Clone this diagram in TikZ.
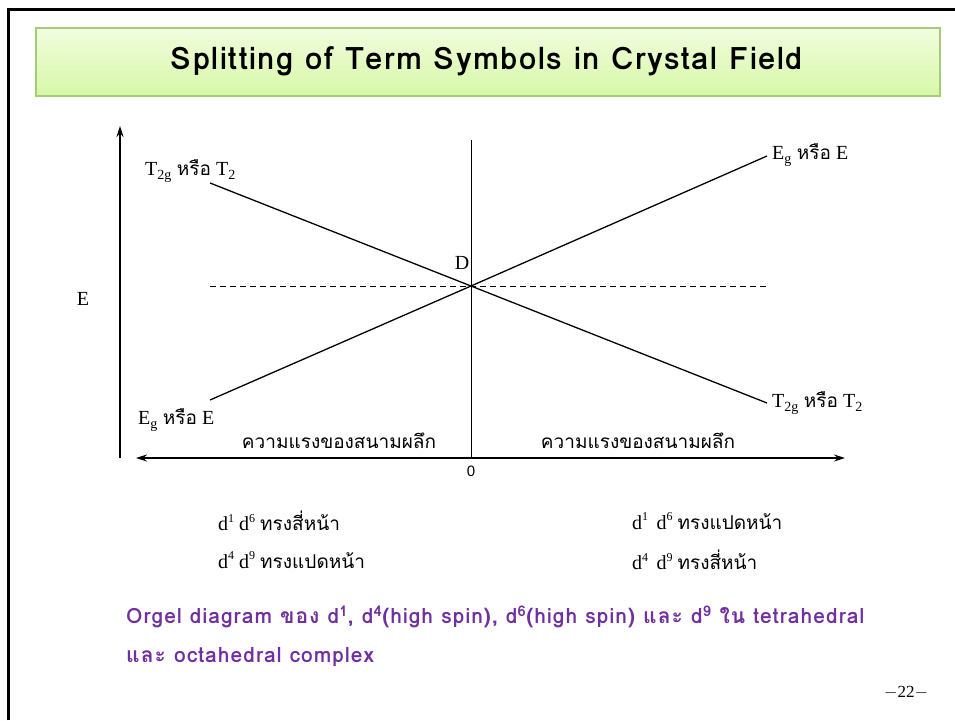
\documentclass[tikz,border=0pt]{standalone}
\usepackage{fontspec}
\setmainfont{Liberation Serif}
\newfontfamily\thai[Script=Thai]{Loma}
\newfontfamily\capfont[Script=Thai,LetterSpace=5]{Loma}
\newfontfamily\ttlfont[Script=Thai,LetterSpace=5]{Loma}
\newfontfamily\lsans{Liberation Sans}
\usetikzlibrary{arrows.meta}
\definecolor{capc}{HTML}{7030A0}
\definecolor{titletop}{HTML}{F2FCDF}
\definecolor{titlebot}{HTML}{D6F8A6}
\definecolor{titleedge}{HTML}{A6CC76}
\newcommand\lbl{\fontsize{20}{22}\selectfont}
\newcommand\thl{\thai\fontsize{19}{22}\selectfont}
\newcommand\hsup[1]{\raisebox{0.9ex}{\fontsize{12}{12}\selectfont #1}}
\begin{document}
\begin{tikzpicture}[x=1pt,y=-1pt,
  axis/.style={line width=1.2pt},
  split/.style={line width=1.3pt},
  txt/.style={inner sep=0pt,font=\lbl},
  capt/.style={inner sep=0pt,anchor=west,text=capc,font=\capfont\bfseries\fontsize{21}{24}\selectfont}]
\useasboundingbox (0,0) rectangle (955,720);
\fill[white] (0,0) rectangle (955,720);
\draw[line width=3pt] (8,720) -- (8,9) -- (955,9);
\shade[top color=titletop,bottom color=titlebot] (36,28) rectangle (940,96);
\draw[titleedge,line width=1.5pt] (36,28) rectangle (940,96);
\node[inner sep=0pt,font=\ttlfont\bfseries\fontsize{31}{34}\selectfont] (title) at (487,61) {Splitting of Term Symbols in Crystal Field};
% axes
\coordinate (ybot) at (120,458);
\coordinate (ytop) at (120,126);
\draw[axis,-{Stealth[length=11pt,width=7pt]}] (ybot) -- (ytop);
\coordinate (xl) at (136,458);
\coordinate (xr) at (845,458);
\draw[axis,{Stealth[length=11pt,width=7pt]}-{Stealth[length=11pt,width=7pt]}] (xl) -- (xr);
\coordinate (vtop) at (471,140);
\coordinate (vbot) at (471,458);
\draw[line width=1pt] (vtop) -- (vbot);
\coordinate (dl) at (210,286);
\coordinate (dr) at (766,286);
\draw[line width=1pt,dash pattern=on 6pt off 4pt] (dl) -- (dr);
\coordinate (c) at (471,286);
\coordinate (tl) at (210,183);
\coordinate (tr) at (767,403);
\coordinate (el) at (210,400);
\coordinate (er) at (767,156);
\draw[split] (tl) -- (c) -- (tr);
\draw[split] (el) -- (c) -- (er);
% labels
\node[txt] (D) at (462,263) {D};
\node[txt,font=\lsans\fontsize{15}{18}\selectfont] (zero) at (471,471) {0};
\node[txt] (E) at (83,299) {E};
\node[txt,anchor=west] (t2gl) at (145,171) {T\textsubscript{2g} {\thl หรือ} T\textsubscript{2}};
\node[txt,anchor=west] (egr) at (772,155) {E\textsubscript{g} {\thl หรือ} E};
\node[txt,anchor=west] (egl) at (138,420) {E\textsubscript{g} {\thl หรือ} E};
\node[txt,anchor=west] (t2gr) at (772,403) {T\textsubscript{2g} {\thl หรือ} T\textsubscript{2}};
\node[txt,font=\thl] (fl) at (339,441) {ความแรงของสนามผลึก};
\node[txt,font=\thl] (fr) at (638,441) {ความแรงของสนามผลึก};
\node[txt,anchor=west] (a1) at (218,521) {d\hsup{1} d\hsup{6} {\thl ทรงสี่หน้า}};
\node[txt,anchor=west] (a2) at (218,560) {d\hsup{4} d\hsup{9} {\thl ทรงแปดหน้า}};
\node[txt,anchor=west] (b1) at (632,521) {d\hsup{1}\, d\hsup{6} {\thl ทรงแปดหน้า}};
\node[txt,anchor=west] (b2) at (632,560) {d\hsup{4}\, d\hsup{9} {\thl ทรงสี่หน้า}};
\node[capt] (cap1) at (126,617) {Orgel diagram ของ d\textsuperscript{1}, d\textsuperscript{4}(high spin), d\textsuperscript{6}(high spin) และ d\textsuperscript{9} ใน tetrahedral};
\node[capt] (cap2) at (126,657) {และ octahedral complex};
\node[inner sep=0pt,font=\fontsize{17}{20}\selectfont] (pg) at (906,693) {\(-\)22\(-\)};
\end{tikzpicture}
\end{document}
